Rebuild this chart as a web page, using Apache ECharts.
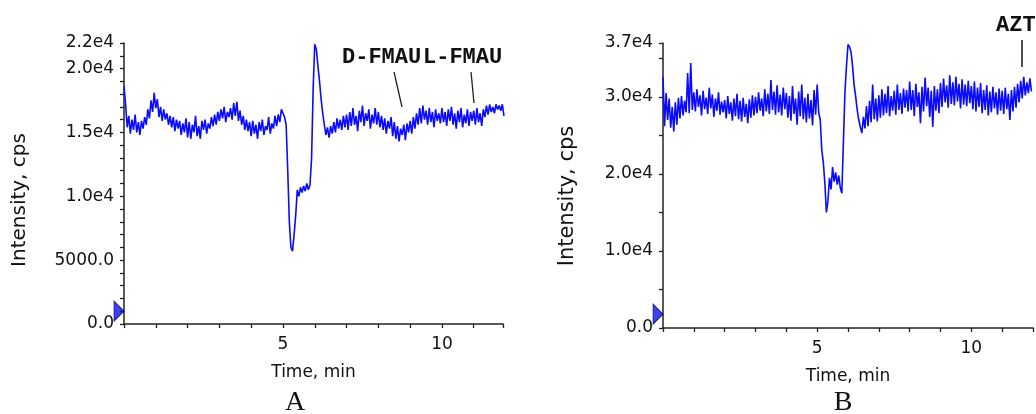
<!DOCTYPE html>
<html>
<head>
<meta charset="utf-8">
<title>FMAU / AZT chromatograms</title>
<script src="https://cdn.jsdelivr.net/npm/echarts@6/dist/echarts.min.js"></script>
<style>
  html, body { margin: 0; padding: 0; background: #fff; }
  #chart { width: 1036px; height: 414px; }
</style>
</head>
<body>
<div id="chart"></div>
<script>
// sampling step of both traces, min
const timeStep = 0.05

// panel A trace, cps, one value every 0.05 min from 0 min
const intensityA = [
  18600, 17200, 15400, 16300, 14900, 16000, 15200, 16400, 15000, 15800, 14800, 15900, 15300, 16200, 15600, 16800, 16100, 17500, 16600, 18100,
  16900, 17600, 16200, 17000, 15900, 16800, 16000, 16500, 15600, 16300, 15400, 16200, 15100, 16000, 15300, 15900, 14800, 15700, 15000, 16100,
  14600, 15800, 14500, 15600, 15000, 16300, 14700, 15500, 14500, 15900, 15200, 16000, 14900, 15700, 15300, 16200, 15500, 16400, 15600, 16600,
  15900, 16800, 16100, 17000, 15800, 16600, 16200, 16900, 16000, 17300, 16300, 17400, 15900, 16700, 15600, 16300, 15200, 16000, 15100, 15800,
  14700, 15900, 14900, 15600, 14500, 15800, 15100, 16000, 14800, 15500, 15200, 16200, 14900, 15700, 15300, 16300, 15500, 16400, 15800, 16800,
  16500, 16200, 15600, 12000, 8000, 6000, 5700, 7000, 8500, 10500, 10000, 10700, 10300, 10800, 10400, 11000, 10500, 10900, 13000, 18500,
  21900, 21500, 20200, 19000, 17600, 16500, 15600, 14800, 15400, 14600, 15500, 14900, 15800, 15000, 16100, 15300, 16000, 15200, 16300, 15400,
  16400, 15200, 16600, 15500, 16900, 15600, 16300, 15100, 16700, 15800, 17100, 15500, 16500, 15900, 16800, 15300, 16400, 15700, 16900, 15600,
  16600, 15400, 16300, 15200, 16100, 14900, 15900, 15300, 16200, 14700, 15800, 14500, 15500, 14300, 15300, 14800, 15600, 14400, 15700, 15000,
  15900, 14900, 16200, 15300, 16500, 15600, 16900, 15700, 17100, 16000, 16700, 15600, 16900, 15800, 16600, 15400, 16800, 15900, 16500, 15700,
  16900, 15800, 16600, 15500, 16800, 15900, 17000, 15600, 16500, 15300, 16700, 15800, 16900, 15400, 16400, 15700, 16800, 15500, 16600, 15900,
  16700, 15600, 16900, 15800, 16500, 15500, 16800, 16200, 17100, 16400, 17200, 16600, 17000, 16500, 17200, 16800, 17100, 16700, 17200, 16300
]

// panel B trace, cps, same sampling
const intensityB = [
  32600, 26200, 30500, 27000, 29800, 26000, 28700, 25500, 29300, 26400, 29900, 27200, 30100, 27600, 29500, 28000, 33100, 27900, 34400, 28300,
  30600, 28100, 31000, 28700, 30200, 27600, 30800, 28400, 29900, 27800, 31200, 28500, 30300, 27400, 29800, 28200, 30600, 27700, 29400, 28000,
  29600, 27200, 30100, 27800, 29300, 26900, 29800, 27500, 30400, 27100, 29500, 26800, 29900, 27400, 29100, 26600, 29700, 27300, 30200, 27600,
  30000, 27900, 30600, 28200, 29800, 27500, 31000, 28100, 30400, 27800, 32200, 28300, 30700, 27700, 31500, 28000, 30300, 27600, 31200, 28400,
  30500, 27300, 30100, 26900, 31400, 27800, 29800, 26400, 30700, 27500, 31600, 27100, 29900, 26700, 30400, 27200, 29600, 26300, 30900, 27700,
  31600, 28000, 27000, 23100, 21500, 18800, 15000, 16500, 19500, 18000, 20900, 19000, 20200, 18600, 19800, 18200, 17500, 24000, 30500, 34000,
  36800, 36500, 35800, 33900, 31500, 30000, 28300, 27000, 26100, 25300, 27400, 25900, 28800, 26200, 29500, 26700, 31600, 27100, 29800, 26800,
  30200, 27300, 31000, 27600, 30400, 27900, 31400, 27500, 30100, 28200, 30800, 27700, 31600, 28300, 30500, 27800, 31100, 28600, 30900, 28100,
  32000, 28300, 30900, 27500, 31700, 28700, 30600, 26600, 31300, 28100, 32500, 28800, 31200, 27400, 30800, 26100, 31400, 28200, 31000, 27900,
  31800, 28700, 32400, 29300, 31500, 28600, 32800, 29100, 31900, 28900, 32600, 29400, 31700, 28500, 32300, 29000, 31600, 28800, 32100, 29200,
  31400, 28400, 32000, 28100, 31200, 28700, 31800, 27900, 30900, 28300, 31500, 27600, 30700, 28000, 31300, 28500, 30600, 27700, 31100, 28200,
  30800, 27800, 31200, 28400, 30400, 27000, 30900, 28100, 31300, 28600, 31700, 29300, 32100, 29800, 32600, 30200, 31900, 30500, 32400, 30700
]

// tick labels (everything else on the tick grid stays unlabelled)
const yLabelsA = { 0: '0.0', 5000: '5000.0', 10000: '1.0e4', 15000: '1.5e4', 20000: '2.0e4', 22000: '2.2e4' }
const yLabelsB = { 0: '0.0', 10000: '1.0e4', 20000: '2.0e4', 30000: '3.0e4', 37000: '3.7e4' }
const xLabels = { 5: '5', 10: '10' }

// start marker on the y axis (value where the blue triangle sits)
const markerA = 1000
const markerB = 1800

const toPairs = list => list.map((v, i) => [+(i * timeStep).toFixed(2), v])

const chart = echarts.init(document.getElementById('chart'))

const axisFont = { fontFamily: 'DejaVu Sans', fontSize: 17, color: '#111' }

function xAxisCfg (gridIndex, max) {
  return {
    type: 'value',
    gridIndex: gridIndex,
    min: 0,
    max: max,
    interval: 1,
    name: 'Time, min',
    nameLocation: 'middle',
    nameGap: 40,
    nameTextStyle: axisFont,
    axisLine: { show: true, lineStyle: { color: '#222', width: 1.5 } },
    axisTick: { show: true, length: 4, lineStyle: { color: '#222', width: 1.3 } },
    axisLabel: Object.assign({ margin: 12, formatter: v => xLabels[v] || '' }, axisFont),
    splitLine: { show: false }
  }
}

function yAxisCfg (gridIndex, max, interval, labels) {
  return {
    type: 'value',
    gridIndex: gridIndex,
    min: 0,
    max: max,
    interval: interval,
    axisLine: { show: true, lineStyle: { color: '#222', width: 1.5 } },
    axisTick: { show: true, length: 4, lineStyle: { color: '#222', width: 1.3 } },
    axisLabel: Object.assign({ margin: 10, formatter: v => labels[v] || '' }, axisFont),
    splitLine: { show: false }
  }
}

function traceSeries (idx, data) {
  return {
    type: 'line',
    xAxisIndex: idx,
    yAxisIndex: idx,
    data: toPairs(data),
    showSymbol: false,
    symbol: 'none',
    animation: false,
    lineStyle: { color: '#0a0aff', width: 1.6 }
  }
}

function markerSeries (idx, value) {
  return {
    type: 'scatter',
    xAxisIndex: idx,
    yAxisIndex: idx,
    data: [[0, value]],
    symbol: 'triangle',
    symbolSize: [20, 10],
    symbolRotate: -90,
    symbolOffset: [-5, 0],
    clip: false,
    silent: true,
    animation: false,
    itemStyle: { color: '#1010f0', borderColor: '#000060', borderWidth: 1 }
  }
}

const labelFont = 'bold 22px "Liberation Mono"'

chart.setOption({
  backgroundColor: '#fff',
  animation: false,
  grid: [
    { left: 124, top: 43, width: 379, height: 281 },
    { left: 663, top: 43, width: 379, height: 285 }
  ],
  xAxis: [xAxisCfg(0, 11.92), xAxisCfg(1, 12)],
  yAxis: [
    yAxisCfg(0, 22000, 1000, yLabelsA),
    yAxisCfg(1, 37000, 5000, yLabelsB)
  ],
  series: [
    traceSeries(0, intensityA),
    traceSeries(1, intensityB),
    markerSeries(0, markerA),
    markerSeries(1, markerB)
  ],
  graphic: [
    { type: 'text', x: 20, y: 200, rotation: Math.PI / 2,
      style: { text: 'Intensity, cps', font: '20px "DejaVu Sans"', fill: '#111', align: 'center', verticalAlign: 'middle' } },
    { type: 'text', x: 568, y: 196, rotation: Math.PI / 2,
      style: { text: 'Intensity, cps', font: '21px "DejaVu Sans"', fill: '#111', align: 'center', verticalAlign: 'middle' } },
    { type: 'text', x: 295, y: 403,
      style: { text: 'A', font: '28px "Liberation Serif"', fill: '#111', align: 'center', verticalAlign: 'middle' } },
    { type: 'text', x: 843, y: 403,
      style: { text: 'B', font: '28px "Liberation Serif"', fill: '#111', align: 'center', verticalAlign: 'middle' } },
    // peak annotations
    { type: 'text', x: 342, y: 57, style: { text: 'D-FMAU', font: labelFont, fill: '#111', verticalAlign: 'middle' } },
    { type: 'text', x: 423, y: 57, style: { text: 'L-FMAU', font: labelFont, fill: '#111', verticalAlign: 'middle' } },
    { type: 'text', x: 996, y: 25, style: { text: 'AZT', font: labelFont, fill: '#111', verticalAlign: 'middle' } },
    { type: 'line', shape: { x1: 394, y1: 72, x2: 402, y2: 107 }, style: { stroke: '#222', lineWidth: 1.3 } },
    { type: 'line', shape: { x1: 471, y1: 72, x2: 474, y2: 103 }, style: { stroke: '#222', lineWidth: 1.3 } },
    { type: 'line', shape: { x1: 1022, y1: 40, x2: 1022, y2: 67 }, style: { stroke: '#222', lineWidth: 1.6 } }
  ]
})
</script>
</body>
</html>
